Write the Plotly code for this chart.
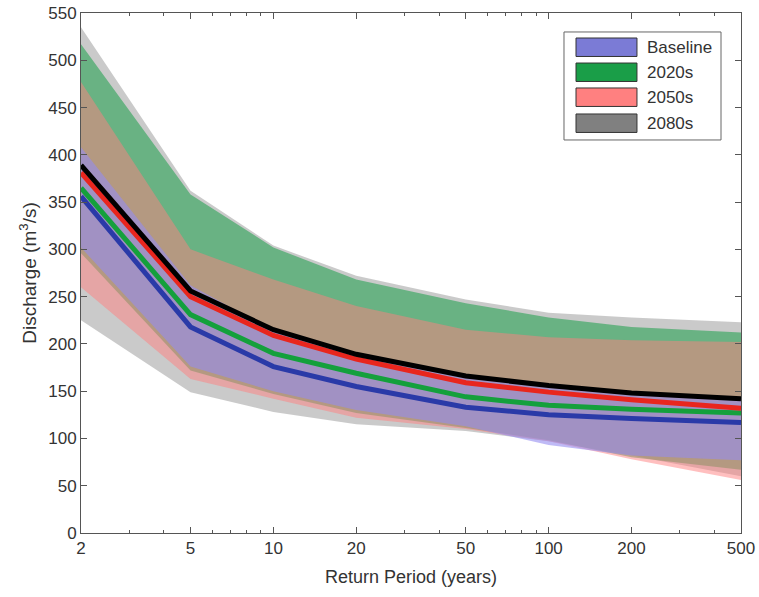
import plotly.graph_objects as go

return_period = [2, 5, 10, 20, 50, 100, 200, 500]

# median lines
baseline_mid = [356, 218, 176, 155, 133, 125, 121, 117]
s2020_mid = [365, 231, 190, 169, 144, 135, 131, 127]
s2050_mid = [381, 250, 209, 184, 159, 149, 141, 132]
s2080_mid = [389, 256, 215, 189, 166, 156, 148, 142]

# uncertainty bands
baseline_hi = [408, 262, 214, 187, 166, 156, 148, 142]
baseline_lo = [302, 176, 150, 130, 113, 93, 82, 77]
s2020_hi = [517, 358, 302, 268, 243, 228, 218, 212]
s2020_lo = [296, 172, 147, 127, 111, 98, 80, 67]
s2050_hi = [477, 300, 268, 240, 215, 207, 204, 202]
s2050_lo = [260, 163, 142, 122, 110, 97, 78, 56]
s2080_hi = [535, 362, 304, 272, 247, 233, 228, 223]
s2080_lo = [225, 149, 128, 115, 108, 97, 82, 60]

y_ticks = list(range(0, 551, 50))
x_ticks = [2, 5, 10, 20, 50, 100, 200, 500]
x_minor = [3, 4, 6, 7, 8, 9, 30, 40, 60, 70, 80, 90, 300, 400]

names = ["Baseline", "2020s", "2050s", "2080s"]
legend_colors = ["#7b7bd6", "#1a9e48", "#ff8080", "#808080"]

fig = go.Figure()

bands = [
    (s2080_hi, s2080_lo, "rgba(128,128,128,0.42)"),
    (s2020_hi, s2020_lo, "rgba(26,158,72,0.55)"),
    (s2050_hi, s2050_lo, "rgba(255,128,128,0.5)"),
    (baseline_hi, baseline_lo, "rgba(148,140,240,0.6)"),
]
for hi, lo, col in bands:
    fig.add_trace(go.Scatter(
        x=return_period + return_period[::-1],
        y=hi + lo[::-1],
        fill="toself", fillcolor=col, mode="lines",
        line=dict(width=0), showlegend=False, hoverinfo="skip"))

lines = [
    (baseline_mid, "#2a3aa8"),
    (s2020_mid, "#14a03c"),
    (s2050_mid, "#e8261e"),
    (s2080_mid, "#000000"),
]
for ys, col in lines:
    fig.add_trace(go.Scatter(x=return_period, y=ys, mode="lines",
                             line=dict(color=col, width=5), showlegend=False))

# manual legend (paper coordinates)
shapes = [dict(type="rect", xref="paper", yref="paper", x0=0.7318, x1=0.9697,
               y0=0.7558, y1=0.9635, line=dict(color="#666666", width=1),
               fillcolor="white", layer="above")]
annotations = []
row_tops = [0.9519, 0.9038, 0.8558, 0.8058]
row_h = 0.0355
for name, col, top in zip(names, legend_colors, row_tops):
    shapes.append(dict(type="rect", xref="paper", yref="paper", x0=0.75, x1=0.8424,
                       y0=top - row_h, y1=top, line=dict(color="#333333", width=1),
                       fillcolor=col, layer="above"))
    annotations.append(dict(xref="paper", yref="paper", x=0.8545, y=top - row_h / 2,
                            xanchor="left", yanchor="middle", text=name, showarrow=False,
                            font=dict(size=17, color="#333333")))

axis_common = dict(showline=True, linecolor="#555555", linewidth=1, mirror="ticks",
                   ticks="inside", tickcolor="#555555", showgrid=False, zeroline=False,
                   automargin=False, ticklabeloverflow="allow",
                   tickfont=dict(size=17, color="#333333"))

fig.update_layout(
    width=759, height=597,
    margin=dict(l=81, r=18, t=13, b=64),
    paper_bgcolor="white", plot_bgcolor="white",
    font=dict(family="Liberation Sans, Arial, sans-serif", color="#333333"),
    showlegend=False,
    shapes=shapes, annotations=annotations,
    xaxis=dict(type="log", range=[0.30103, 2.69897], tickvals=x_ticks,
               ticktext=[str(v) for v in x_ticks], ticklen=6,
               minor=dict(tickvals=x_minor, ticks="inside", ticklen=3, tickcolor="#555555"),
               title=dict(text="Return Period (years)", font=dict(size=18, color="#333333"), standoff=12),
               **axis_common),
    yaxis=dict(range=[0, 550], tickvals=y_ticks, ticklen=6,
               title=dict(text="Discharge (m<sup>3</sup>/s)", font=dict(size=19, color="#333333"), standoff=6),
               **axis_common),
)

fig.write_html("out.html", config={"displayModeBar": False},
               post_script="document.body.style.margin='0';")
